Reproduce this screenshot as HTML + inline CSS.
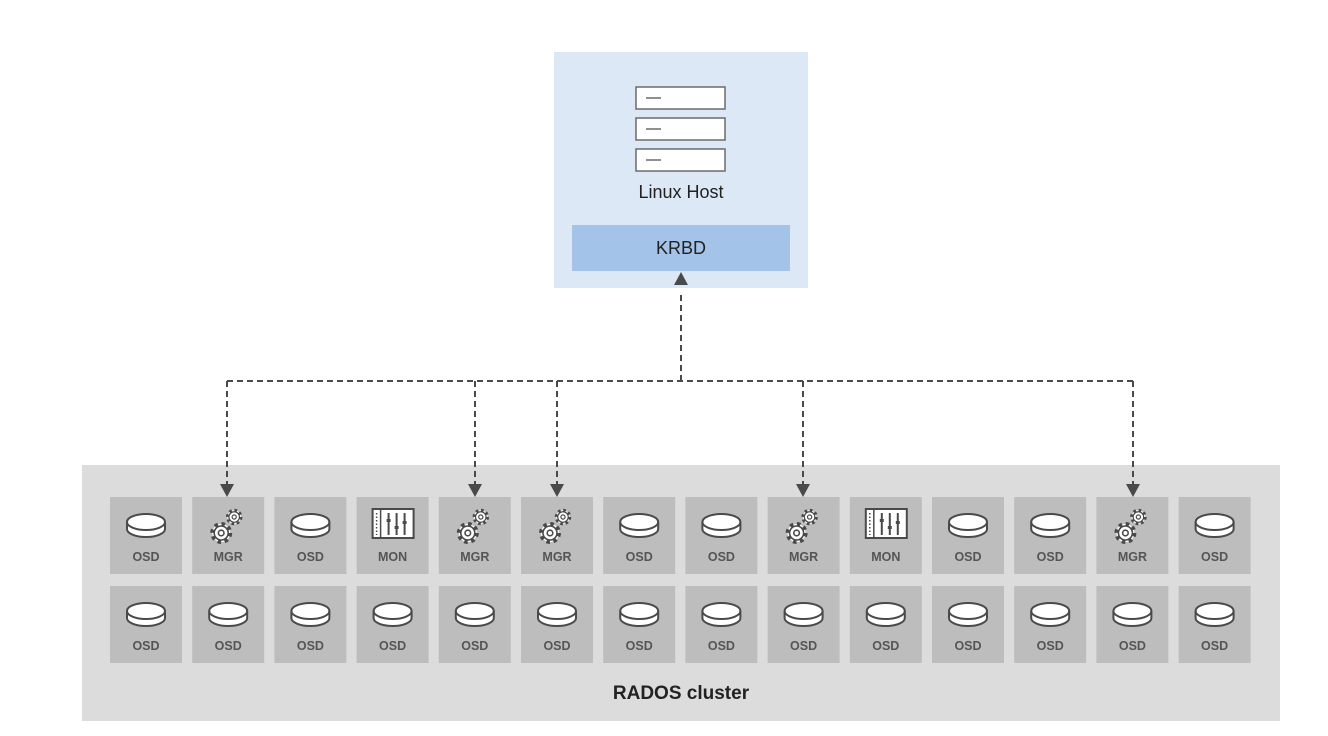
<!DOCTYPE html>
<html><head><meta charset="utf-8"><style>
html,body{margin:0;padding:0;background:#fff;}
svg{display:block;font-family:"Liberation Sans",sans-serif;}
</style></head><body>
<svg width="1328" height="736" viewBox="0 0 1328 736" xmlns="http://www.w3.org/2000/svg">
<defs>
<g id="disk">
  <path d="M-19,6 L-19,-1 A19,8 0 0 1 19,-1 L19,6 A19,8 0 0 1 -19,6 Z" fill="#fff" stroke="#4a4a4a" stroke-width="2"/>
  <path d="M-19,-1 A19,8 0 0 0 19,-1" fill="none" stroke="#4a4a4a" stroke-width="2"/>
</g>
<g id="gear">
  <circle r="9" fill="#fff" stroke="#4a4a4a" stroke-width="4" stroke-dasharray="3.5 3.57"/>
  <circle r="7" fill="#fff" stroke="#4a4a4a" stroke-width="1.6"/>
  <circle r="2.8" fill="none" stroke="#4a4a4a" stroke-width="1.6"/>
</g>
<g id="gears">
  <g transform="translate(6,-6) scale(0.75)"><use href="#gear"/></g>
  <g transform="translate(-7,10)"><use href="#gear"/></g>
</g>
<g id="mon">
  <rect x="-20" y="-14" width="41" height="29" fill="#fff" stroke="#4a4a4a" stroke-width="2"/>
  <line x1="-12" y1="-14" x2="-12" y2="15" stroke="#4a4a4a" stroke-width="1.5"/>
  <line x1="-16" y1="-10" x2="-16" y2="12" stroke="#4a4a4a" stroke-width="1.5" stroke-dasharray="1.5 2"/>
  <line x1="-4" y1="-10" x2="-4" y2="12" stroke="#4a4a4a" stroke-width="2"/>
  <line x1="4" y1="-10" x2="4" y2="12" stroke="#4a4a4a" stroke-width="2"/>
  <line x1="12" y1="-10" x2="12" y2="12" stroke="#4a4a4a" stroke-width="2"/>
  <rect x="-6" y="-4" width="4" height="3" fill="#4a4a4a"/>
  <rect x="2" y="3" width="4" height="3" fill="#4a4a4a"/>
  <rect x="10" y="-2" width="4" height="3" fill="#4a4a4a"/>
</g>
</defs>

<rect x="554" y="52" width="254" height="236" fill="#dce8f5"/>
<g fill="#fff" stroke="#6a6a6a" stroke-width="1.5">
  <rect x="636" y="87" width="89" height="22"/>
  <rect x="636" y="118" width="89" height="22"/>
  <rect x="636" y="149" width="89" height="22"/>
</g>
<g stroke="#6a6a6a" stroke-width="1.5">
  <line x1="646" y1="98" x2="661" y2="98"/>
  <line x1="646" y1="129" x2="661" y2="129"/>
  <line x1="646" y1="160" x2="661" y2="160"/>
</g>
<text x="681" y="198" text-anchor="middle" font-size="18" fill="#222">Linux Host</text>
<rect x="572" y="225" width="218" height="46" fill="#a3c4e8"/>
<text x="681" y="254" text-anchor="middle" font-size="18" fill="#222">KRBD</text>

<rect x="82" y="465" width="1198" height="256" fill="#dcdcdc"/>
<text x="681" y="699" text-anchor="middle" font-size="19" font-weight="bold" fill="#222">RADOS cluster</text>

<g id="cells"></g>

<g stroke="#4a4a4a" stroke-width="2" stroke-dasharray="6 4" fill="none">
  <line x1="227" y1="381" x2="1133" y2="381"/>
  <line x1="681" y1="381" x2="681" y2="294"/>
  <line x1="227" y1="381" x2="227" y2="486"/>
  <line x1="475" y1="381" x2="475" y2="486"/>
  <line x1="557" y1="381" x2="557" y2="486"/>
  <line x1="803" y1="381" x2="803" y2="486"/>
  <line x1="1133" y1="381" x2="1133" y2="486"/>
</g>
<g fill="#4a4a4a">
  <polygon points="674,285 688,285 681,272"/>
  <polygon points="220,484 234,484 227,497"/>
  <polygon points="468,484 482,484 475,497"/>
  <polygon points="550,484 564,484 557,497"/>
  <polygon points="796,484 810,484 803,497"/>
  <polygon points="1126,484 1140,484 1133,497"/>
</g>

<script>
(function(){
var ns="http://www.w3.org/2000/svg";
var g=document.getElementById("cells");
var row1=["OSD","MGR","OSD","MON","MGR","MGR","OSD","OSD","MGR","MON","OSD","OSD","MGR","OSD"];
function el(t,a){var e=document.createElementNS(ns,t);for(var k in a)e.setAttribute(k,a[k]);return e;}
for(var r=0;r<2;r++){
 for(var i=0;i<14;i++){
  var x=110+i*82.2, y=r==0?497:586, cx=x+36;
  g.appendChild(el("rect",{x:x,y:y,width:72,height:77,fill:"#bdbdbd"}));
  var lab=r==0?row1[i]:"OSD";
  var sym=lab=="OSD"?"disk":lab=="MGR"?"gears":"mon";
  var u=el("use",{href:"#"+sym});
  u.setAttribute("transform","translate("+cx+","+(y+26)+")");
  g.appendChild(u);
  var t=el("text",{x:cx,y:y+64,"text-anchor":"middle","font-size":"12.5","font-weight":"bold",fill:"#555"});
  t.textContent=lab; g.appendChild(t);
 }
}
})();
</script>
</svg>
</body></html>
